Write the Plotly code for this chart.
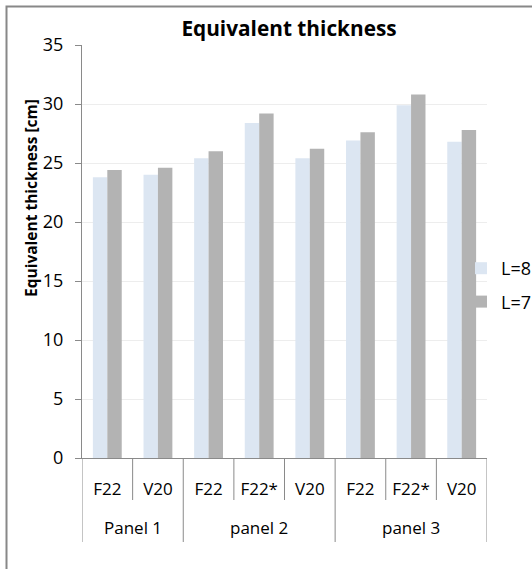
import plotly.graph_objects as go

panels = ["Panel 1", "Panel 1", "panel 2", "panel 2", "panel 2", "panel 3", "panel 3", "panel 3"]
cases = ["F22", "V20", "F22", "F22*", "V20", "F22", "F22*", "V20"]
l8 = [23.8, 24.0, 25.4, 28.4, 25.4, 26.9, 29.9, 26.8]
l7 = [24.4, 24.6, 26.0, 29.2, 26.2, 27.6, 30.8, 27.8]

FONT = "Open Sans"
W, H = 532, 569
L, R, T, B = 82, 45, 45, 111
pw, ph = W - L - R, H - T - B
AXC = "#8a8a8a"

def px_x(px):
    return (px - L) / pw

def px_y(py):
    return (H - B - py) / ph

pos = list(range(len(cases)))

fig = go.Figure()
fig.add_trace(go.Bar(x=pos, y=l8, name="L=8", marker=dict(color="#dce6f2", line=dict(width=0)), legendgroup="a"))
fig.add_trace(go.Bar(x=pos, y=l7, name="L=7", marker=dict(color="#b3b3b3", line=dict(width=0)), legendgroup="b"))

fig.update_layout(
    width=W, height=H,
    margin=dict(l=L, r=R, t=T, b=B, autoexpand=False),
    paper_bgcolor="white", plot_bgcolor="white",
    font=dict(family=FONT, size=17, color="#000000"),
    barmode="group", bargap=0.43, bargroupgap=0,
    title=dict(text="<b>Equivalent thickness</b>", font=dict(family=FONT, size=20.8, color="#000"),
               x=px_x(289), xref="paper", xanchor="center", y=1 - 29 / H, yref="container", yanchor="middle"),
    showlegend=True,
    legend=dict(x=px_x(461), y=px_y(250), xanchor="left", yanchor="top",
                font=dict(family=FONT, size=18), tracegroupgap=7, traceorder="grouped",
                bgcolor="rgba(0,0,0,0)", itemclick=False),
    xaxis=dict(range=[-0.5, len(cases) - 0.5], tickmode="array", tickvals=pos, ticktext=cases,
               showline=True, linecolor=AXC, linewidth=1.3, ticks="", ticklabelstandoff=15,
               tickfont=dict(family=FONT, size=17), showgrid=False, zeroline=False),
    yaxis=dict(range=[0, 35], dtick=5, showline=True, linecolor=AXC, linewidth=1.3,
               ticks="outside", ticklen=6, tickcolor=AXC, tickwidth=1.3, ticklabelstandoff=8,
               gridcolor="#ededed", gridwidth=1, zeroline=False,
               tickfont=dict(family=FONT, size=18)),
)

# separators between sub-categories and between panels
groups = []
for i, p in enumerate(panels):
    if not groups or groups[-1][0] != p:
        groups.append([p, i, i])
    else:
        groups[-1][2] = i

for i in range(len(cases) - 1):
    boundary = i + 0.5
    same = panels[i] == panels[i + 1]
    fig.add_shape(type="line", xref="x", yref="paper", x0=boundary, x1=boundary,
                  y0=0, y1=px_y(500) if same else px_y(542), line=dict(color=AXC, width=1))
for edge in (-0.5, len(cases) - 0.5):
    fig.add_shape(type="line", xref="x", yref="paper", x0=edge, x1=edge,
                  y0=0, y1=px_y(542), line=dict(color=AXC, width=1))

for name, a, b in groups:
    fig.add_annotation(text=name, xref="x", yref="paper", x=(a + b) / 2, y=px_y(527),
                       xanchor="center", yanchor="middle", showarrow=False,
                       font=dict(family=FONT, size=17, color="#000"))

fig.add_annotation(text="<b>Equivalent thickness [cm]</b>", textangle=-90, xref="paper", yref="paper",
                   x=px_x(31), y=px_y(198), xanchor="center", yanchor="middle", showarrow=False,
                   font=dict(family=FONT, size=15.5, color="#000"))

# chart-area border (left and top edges visible, rest runs past the window)
fig.add_shape(type="rect", xref="paper", yref="paper", layer="above",
              x0=px_x(6.5), x1=px_x(W + 10), y0=px_y(6.5), y1=px_y(H + 10),
              line=dict(color="#888888", width=2), fillcolor="rgba(0,0,0,0)")

fig.write_html("out.html")
